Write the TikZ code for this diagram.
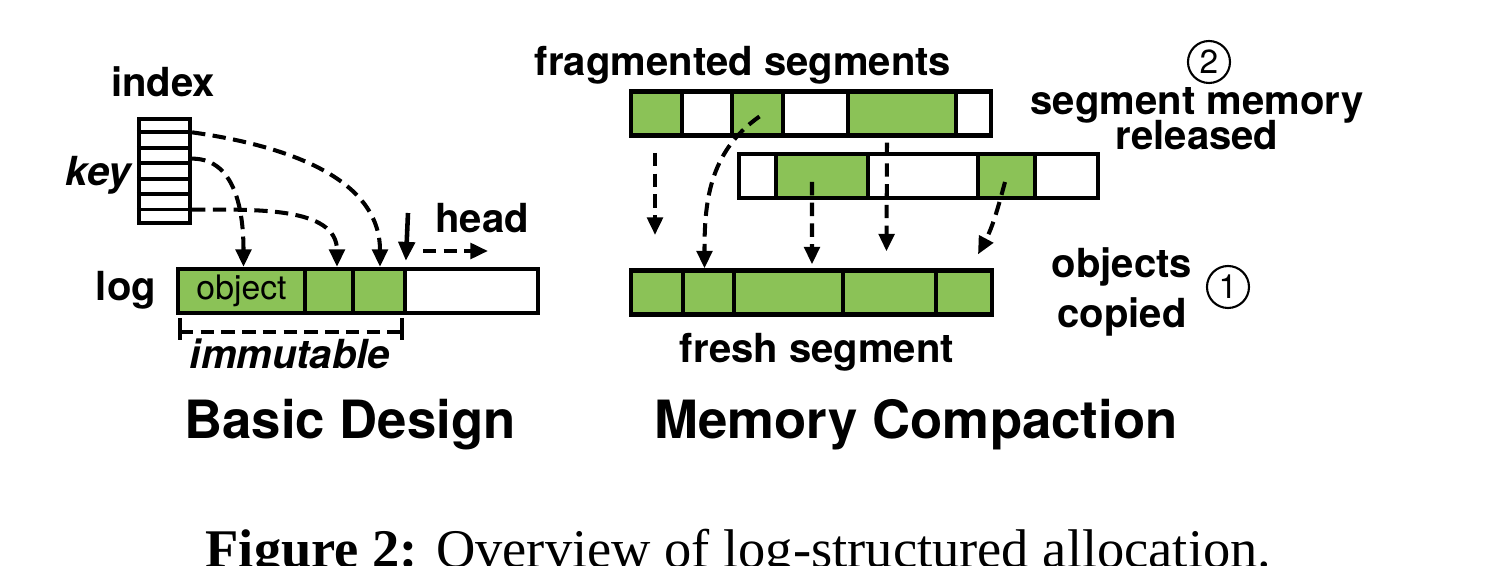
\documentclass[tikz,border=0pt]{standalone}
\usepackage{fontspec}
\setmainfont{TeX Gyre Heros}
\newfontfamily\capfont{Liberation Serif}
\usepackage{tikz}
\usetikzlibrary{arrows.meta,calc,positioning}
\definecolor{objgreen}{RGB}{139,194,87}

\tikzset{
  cellbox/.style={draw, line width=1.2pt, inner sep=0pt, minimum height=0.44cm},
  lbl/.style={font=\fontsize{11.4}{13}\selectfont\bfseries, inner sep=0pt, anchor=base},
  title/.style={font=\fontsize{15}{18}\selectfont\bfseries, inner sep=0pt, anchor=base},
  ptr/.style={line width=1.15pt, dash pattern=on 3.8pt off 2.1pt, -{Triangle[length=5pt,width=4.4pt]}},
  stepnum/.style={circle, draw, line width=0.6pt, minimum size=0.42cm, inner sep=0pt, font=\fontsize{9.5}{10}\selectfont},
}

\begin{document}
\begin{tikzpicture}
	\useasboundingbox (0,0) rectangle (15,5.66);
	
	% basic design: index and log
	\node[draw, line width=1.2pt, minimum width=0.51cm, minimum height=1.04cm, inner sep=0pt] (index) at (1.645,3.95) {};
	\foreach \i in {1,...,6}
		\draw[line width=1.05pt] ($(index.north west)!\i/7!(index.south west)$) -- ($(index.north east)!\i/7!(index.south east)$);
	\coordinate (k1) at ($(index.north east)!1/7!(index.south east)$);
	\coordinate (k2) at ($(index.north east)!2.7/7!(index.south east)$);
	\coordinate (k3) at ($(index.north east)!6/7!(index.south east)$);
	
	\foreach \a/\b/\c/\n in {1.78/3.05/objgreen/l1, 3.05/3.53/objgreen/l2, 3.53/4.05/objgreen/l3, 4.05/5.38/white/l4}
		\node[cellbox, fill=\c, minimum width={(\b-\a)*1cm}] (\n) at ({(\a+\b)/2},2.75) {};
	\node[font=\fontsize{9.6}{10}\selectfont] at (l1) {object};
	
	\draw[ptr] (k1) to[out=-8,in=90] ([xshift=0.01cm]l3.north);
	\draw[ptr] (k2) to[out=0,in=90] ([xshift=0.02cm]l1.north);
	\draw[ptr] (k3) to[out=0,in=90] ([xshift=0.08cm]l2.north);
	
	% head pointer
	\coordinate (headtop) at (4.08,3.53);
	\draw[line width=1.3pt, -{Triangle[length=5.4pt,width=4.6pt]}] (headtop) -- ([xshift=0.03cm,yshift=0.06cm]l4.north west);
	\coordinate (mv1) at (4.23,3.15);
	\coordinate (mv2) at (4.88,3.15);
	\draw[ptr] (mv1) -- (mv2);
	
	% immutable range
	\coordinate (im1) at (1.80,2.34);
	\coordinate (im2) at (4.02,2.34);
	\draw[line width=1.2pt] ([yshift=0.14cm]im1) -- ([yshift=-0.08cm]im1) ([yshift=0.14cm]im2) -- ([yshift=-0.08cm]im2);
	\draw[line width=1.15pt, dash pattern=on 3.8pt off 2.1pt] (im1) -- (im2);
	
	\node[lbl] (idxlbl) at (1.63,4.69) {index};
	\node[lbl, font=\fontsize{11.4}{13}\selectfont\bfseries\itshape] (keylbl) at (0.98,3.80) {key};
	\node[lbl] (loglbl) at (1.26,2.65) {log};
	\node[lbl] (headlbl) at (4.82,3.33) {head};
	\node[lbl, font=\fontsize{11.4}{13}\selectfont\bfseries\itshape] (immlbl) at (2.90,1.97) {immutable};
	
	% memory compaction: segments
	\foreach \a/\b/\c [count=\i] in {6.31/6.82/objgreen, 6.82/7.32/white, 7.32/7.83/objgreen, 7.83/8.48/white, 8.48/9.56/objgreen, 9.56/9.91/white}
		\node[cellbox, fill=\c, minimum width={(\b-\a)*1cm}] (top\i) at ({(\a+\b)/2},4.525) {};
	\foreach \a/\b/\c [count=\i] in {7.39/7.76/white, 7.76/8.68/objgreen, 8.68/9.78/white, 9.78/10.35/objgreen, 10.35/10.98/white}
		\node[cellbox, fill=\c, minimum width={(\b-\a)*1cm}] (mid\i) at ({(\a+\b)/2},3.90) {};
	\foreach \a/\b [count=\i] in {6.31/6.83, 6.83/7.34, 7.34/8.43, 8.43/9.36, 9.36/9.92}
		\node[cellbox, fill=objgreen, minimum width={(\b-\a)*1cm}] (fr\i) at ({(\a+\b)/2},2.735) {};
	
	% copy arrows
	\coordinate (ca1) at (6.55,4.13);
	\coordinate (ca2) at (6.55,3.31);
	\draw[ptr] (ca1) -- (ca2);
	\draw[ptr] ([xshift=0.02cm,yshift=-0.03cm]top3.center) to[out=215,in=90] ([xshift=-0.04cm]fr2.north);
	\draw[ptr] ([xshift=-0.1cm,yshift=-0.06cm]mid2.center) -- ([xshift=0.235cm,yshift=0.04cm]fr3.north);
	\draw[ptr] ([xshift=-0.15cm,yshift=-0.05cm]top5.south) -- ([xshift=-0.03cm,yshift=0.17cm]fr4.north);
	\draw[ptr] ([xshift=-0.015cm,yshift=-0.06cm]mid4.center) to[out=-105,in=62] ([xshift=0.14cm,yshift=0.14cm]fr5.north);
	
	\node[lbl] (fraglbl) at (7.43,4.90) {fragmented segments};
	\node[lbl] (freshlbl) at (8.17,2.03) {fresh segment};
	\node[lbl] (rel1) at (11.97,4.51) {segment memory};
	\node[lbl] (rel2) at (11.97,4.16) {released};
	\node[stepnum] (two) at (12.09,5.04) {2};
	\node[lbl] (cp1) at (11.22,2.88) {objects};
	\node[lbl] (cp2) at (11.22,2.38) {copied};
	\node[stepnum] (one) at (12.28,2.79) {1};
	
	% titles and caption
	\node[title] (basic) at (3.50,1.27) {Basic Design};
	\node[title] (compact) at (9.16,1.27) {Memory Compaction};
	\node[anchor=base west, inner sep=0pt, font=\capfont\fontsize{15.5}{18}\selectfont] (cap) at (2.05,-0.02) {\textbf{Figure 2:} Overview of log-structured allocation.};
\end{tikzpicture}
\end{document}
